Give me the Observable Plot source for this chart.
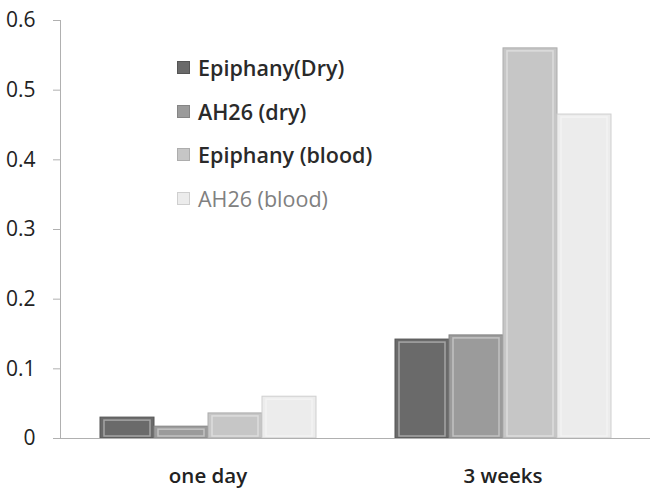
<!DOCTYPE html>
<html>
<head>
<meta charset="utf-8">
<script src="https://cdn.jsdelivr.net/npm/d3@7"></script>
<script src="https://cdn.jsdelivr.net/npm/@observablehq/plot@0.6"></script>
<style>
  body { margin: 0; background: #fff; }
  #wrap { position: relative; width: 656px; height: 496px; font-family: "Open Sans", sans-serif; }
  #legend { position: absolute; left: 177px; top: 46px; }
  .li { display: flex; align-items: center; height: 43.5px; font-size: 21.5px; font-weight: 600; white-space: nowrap; }
  .sw { width: 13px; height: 13px; margin-right: 8px; box-sizing: border-box; }
</style>
</head>
<body>
<div id="wrap"></div>
<script>
const groups = ["one day", "3 weeks"];
const series = ["Epiphany(Dry)", "AH26 (dry)", "Epiphany (blood)", "AH26 (blood)"];
const oneDay = [0.030, 0.017, 0.036, 0.060];
const threeWeeks = [0.142, 0.148, 0.560, 0.465];
const colors = ["#6a6a6a", "#9b9b9b", "#c6c6c6", "#ececec"];
const strokes = ["#555555", "#858585", "#adadad", "#cfcfcf"];
const legendText = ["#2a2a2a", "#2a2a2a", "#2a2a2a", "#808080"];
const legendLabels = ["Epiphany(Dry)", "AH26 (dry)", "Epiphany (blood)", "AH26 (blood)"];
const yTicks = [0, 0.1, 0.2, 0.3, 0.4, 0.5, 0.6];

const data = [];
groups.forEach((g, gi) => {
  const vals = gi === 0 ? oneDay : threeWeeks;
  series.forEach((s, si) => data.push({group: g, series: s, value: vals[si]}));
});

const chart = Plot.plot({
  width: 656,
  height: 496,
  marginLeft: 60,
  marginRight: 6,
  marginTop: 20,
  marginBottom: 58,
  style: {fontFamily: "Open Sans, sans-serif", background: "#fff"},
  fx: {domain: groups, padding: 0, label: null, axis: null},
  x: {domain: series, paddingInner: 0, paddingOuter: 0.73, axis: null},
  y: {domain: [0, 0.6], axis: null},
  color: {domain: series, range: colors},
  marks: [
    Plot.barY(data, {fx: "group", x: "series", y: "value", fill: "series",
      stroke: (d) => strokes[series.indexOf(d.series)], strokeWidth: 1}),
    Plot.barY(data, {fx: "group", x: "series", y: "value", fill: "none",
      stroke: "white", strokeOpacity: 0.4, strokeWidth: 1.5,
      insetLeft: 4, insetRight: 4, insetTop: 3, insetBottom: 2}),
    Plot.axisY(yTicks, {anchor: "left", tickSize: 7, tickPadding: 18, fontSize: 21,
      stroke: "#b0b0b0", fill: "#222", label: null,
      tickFormat: (d) => d === 0 ? "0" : String(d), facetAnchor: "left"}),
    Plot.frame({anchor: "left", facetAnchor: "left", stroke: "#b0b0b0"}),
    Plot.ruleY([0], {stroke: "#b0b0b0"}),
    Plot.axisFx({anchor: "bottom", tickSize: 0, tickPadding: 30, fontSize: 20.5,
      fontWeight: 600, fill: "#222", label: null})
  ]
});

const wrap = document.getElementById("wrap");
wrap.appendChild(chart);
const leg = document.createElement("div");
leg.id = "legend";
legendLabels.forEach((l, i) => {
  const row = document.createElement("div");
  row.className = "li";
  row.style.color = legendText[i];
  if (i === 3) row.style.fontWeight = "400";
  const sw = document.createElement("div");
  sw.className = "sw";
  sw.style.background = colors[i];
  sw.style.border = "1px solid " + strokes[i];
  row.appendChild(sw);
  row.appendChild(document.createTextNode(l));
  leg.appendChild(row);
});
wrap.appendChild(leg);
</script>
</body>
</html>
